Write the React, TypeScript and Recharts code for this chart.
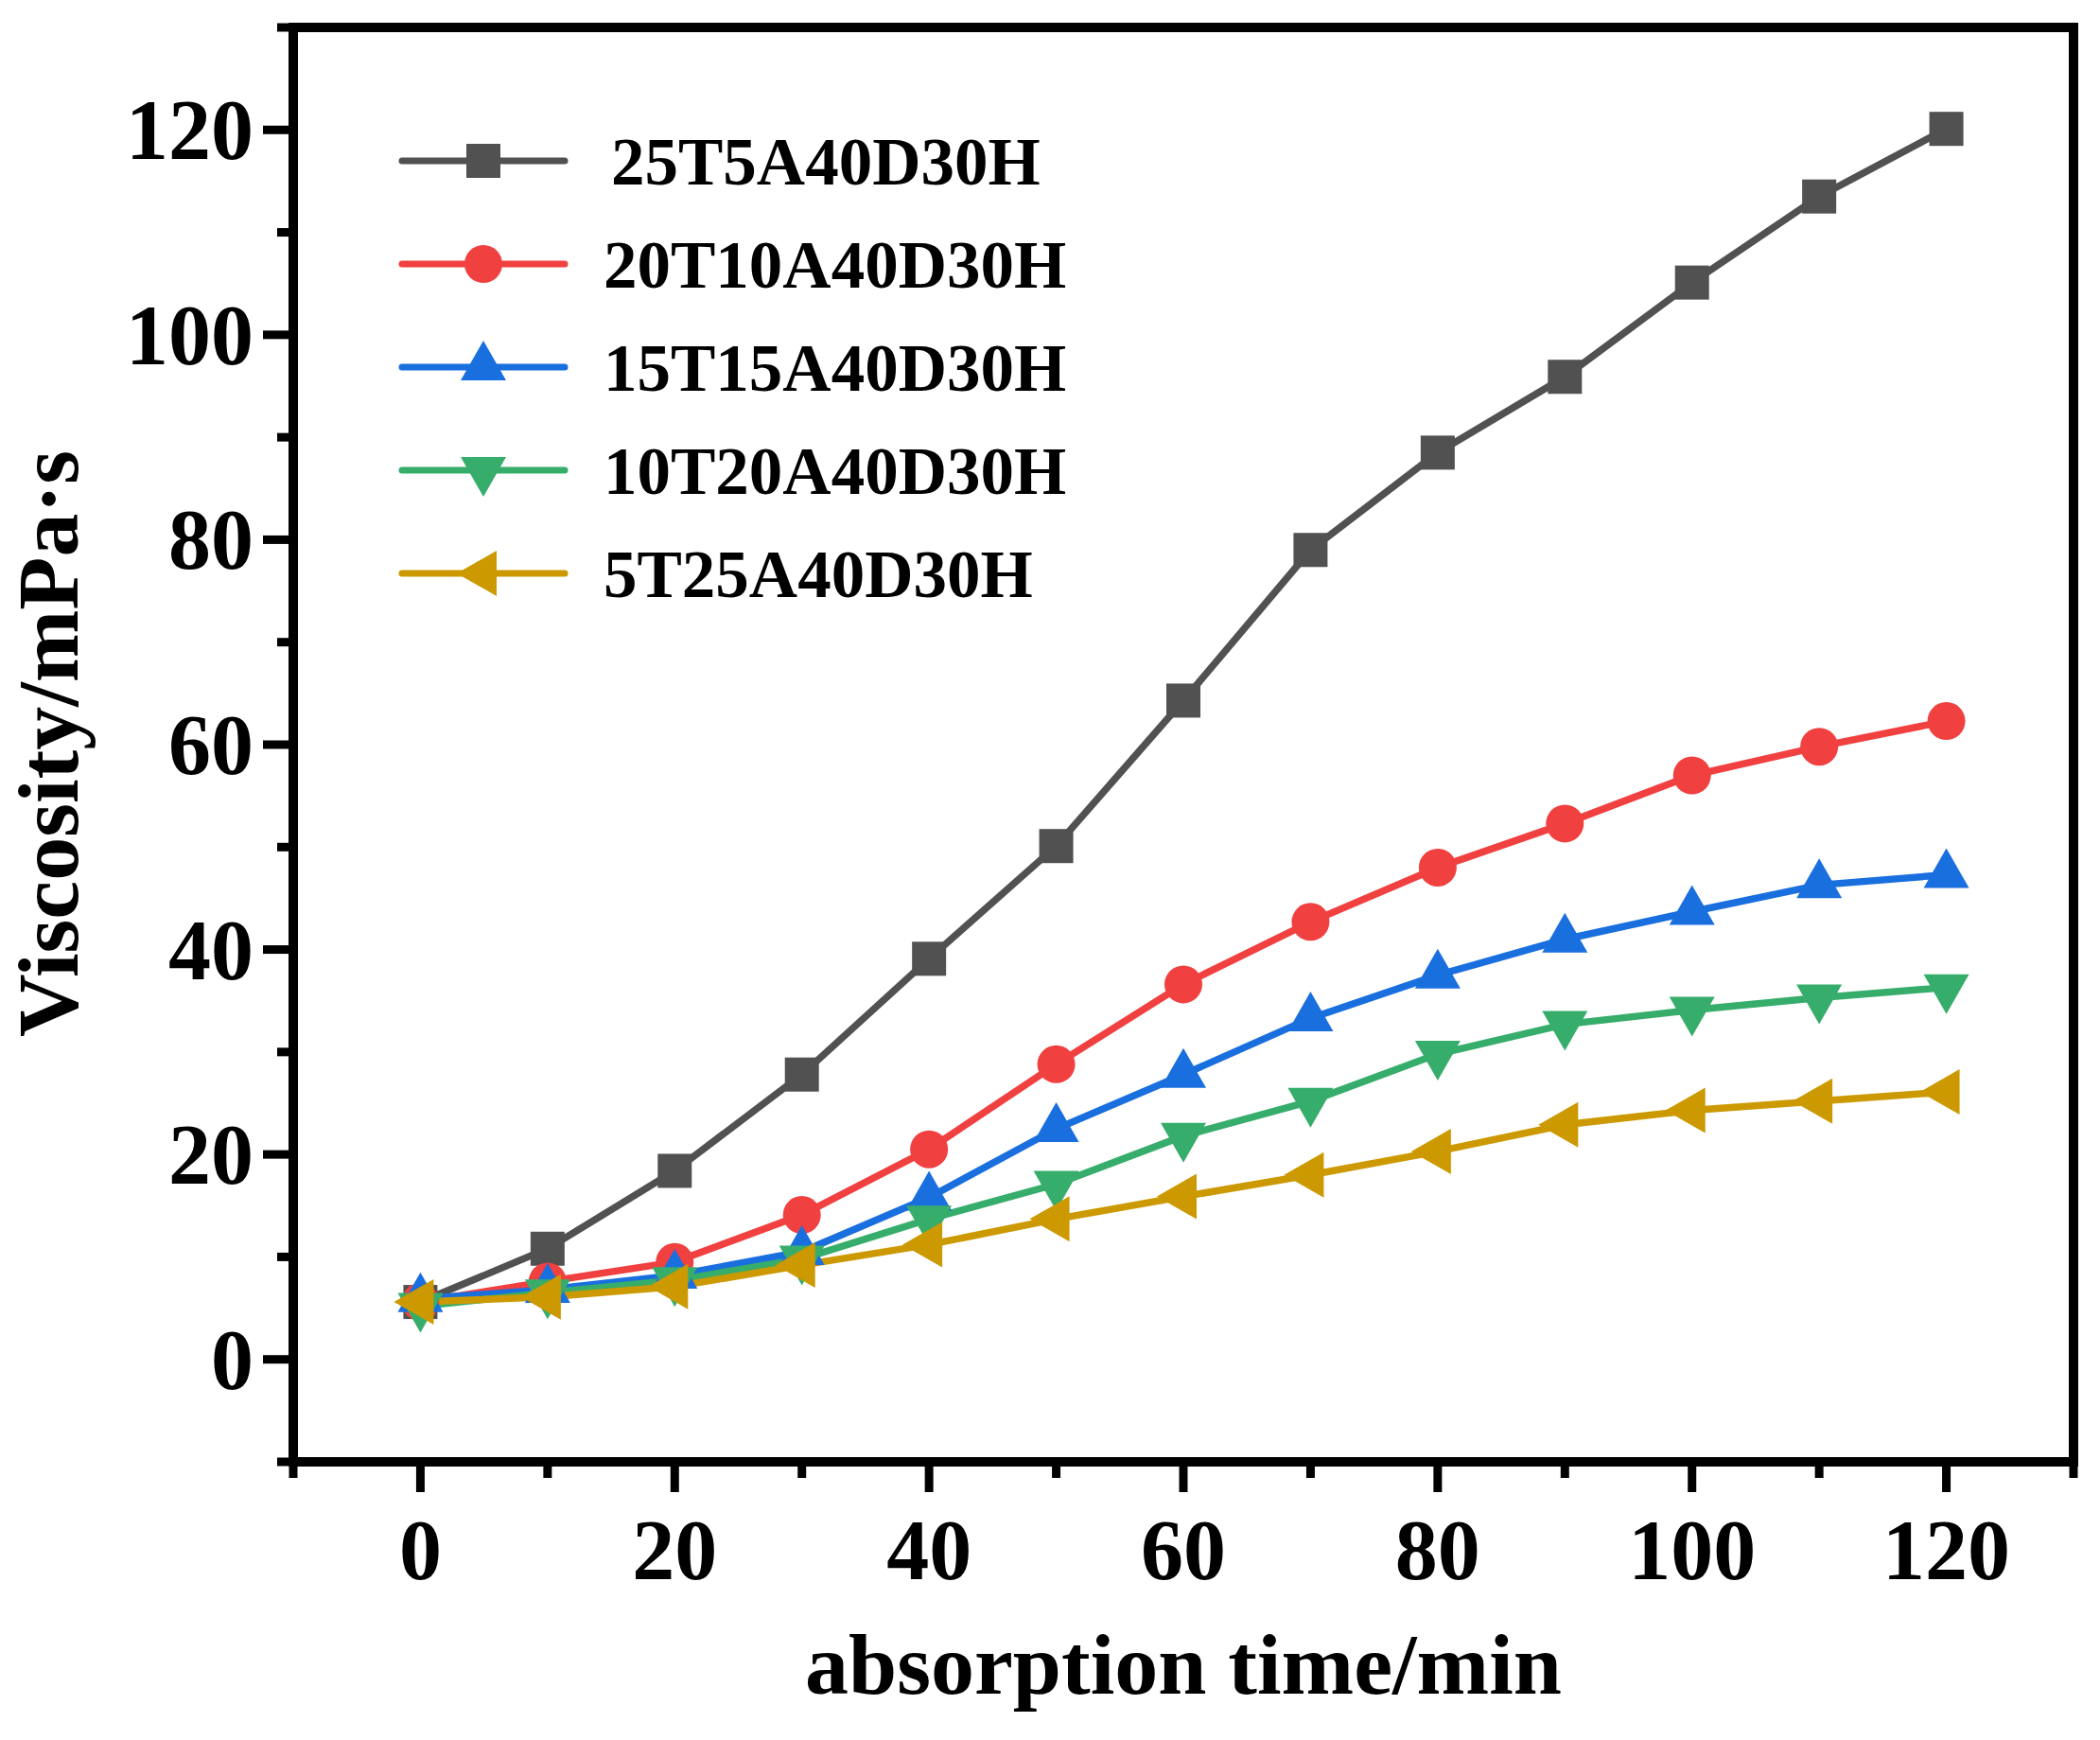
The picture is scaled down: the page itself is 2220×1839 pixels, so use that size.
import React from 'react'
import {
  LineChart,
  Line,
  XAxis,
  YAxis,
  ReferenceArea,
} from 'recharts'

// absorption time (min)
const times = [0, 10, 20, 30, 40, 50, 60, 70, 80, 90, 100, 110, 120]

// viscosity (mPa·s) for each blend
const visc25T5A = [5.6, 10.8, 18.4, 27.8, 39.1, 50.1, 64.3, 79.0, 88.5, 95.9, 105.1, 113.5, 120.1]
const visc20T10A = [5.6, 7.6, 9.5, 14.1, 20.5, 28.8, 36.6, 42.7, 48.0, 52.3, 57.0, 59.8, 62.3]
const visc15T15A = [5.9, 6.8, 8.2, 10.5, 15.8, 22.5, 27.8, 33.3, 37.5, 41.0, 43.7, 46.3, 47.3]
const visc10T20A = [5.2, 6.5, 7.7, 9.8, 13.7, 17.1, 21.8, 25.2, 29.8, 32.7, 34.1, 35.3, 36.3]
const visc5T25A = [5.6, 6.1, 7.1, 9.2, 11.2, 13.7, 15.9, 18.0, 20.3, 22.9, 24.3, 25.2, 26.1]

const seriesNames = ['25T5A40D30H', '20T10A40D30H', '15T15A40D30H', '10T20A40D30H', '5T25A40D30H']
const seriesValues = [visc25T5A, visc20T10A, visc15T15A, visc10T20A, visc5T25A]

const xTicks = [-10, 0, 10, 20, 30, 40, 50, 60, 70, 80, 90, 100, 110, 120, 130]
const yTicks = [-10, 0, 10, 20, 30, 40, 50, 60, 70, 80, 90, 100, 110, 120, 130]

const FONT = '"Liberation Serif", "Times New Roman", serif'
const COLORS = ['#515151', '#F14040', '#1A6FDF', '#37AD6B', '#CC9900']
const SHAPES = ['square', 'circle', 'up', 'down', 'left'] as const
type Shape = (typeof SHAPES)[number]

const data = times.map((t, i) => {
  const row: Record<string, number> = { t }
  seriesNames.forEach((name, s) => {
    row[name] = seriesValues[s][i]
  })
  return row
})

function Marker({ shape, cx, cy, color }: { shape: Shape; cx: number; cy: number; color: string }) {
  switch (shape) {
    case 'square':
      return <rect x={cx - 18} y={cy - 18} width={36} height={36} fill={color} />
    case 'circle':
      return <circle cx={cx} cy={cy} r={20} fill={color} />
    case 'up':
      return <polygon points={`${cx},${cy - 28} ${cx - 24},${cy + 14} ${cx + 24},${cy + 14}`} fill={color} />
    case 'down':
      return <polygon points={`${cx},${cy + 28} ${cx - 24},${cy - 14} ${cx + 24},${cy - 14}`} fill={color} />
    case 'left':
      return <polygon points={`${cx - 28},${cy} ${cx + 14},${cy - 24} ${cx + 14},${cy + 24}`} fill={color} />
  }
}

const isMajor = (v: number) => v % 20 === 0 && v >= 0 && v <= 120

function XTick(props: any) {
  const { x, y, payload } = props
  const major = isMajor(payload.value)
  return (
    <g>
      <line x1={x} y1={y} x2={x} y2={y + (major ? 32 : 17)} stroke="#000" strokeWidth={9} />
      {major && (
        <text x={x} y={y + 124} textAnchor="middle" fontFamily={FONT} fontWeight="bold" fontSize={90} fill="#000">
          {payload.value}
        </text>
      )}
    </g>
  )
}

function YTick(props: any) {
  const { x, y, payload } = props
  const major = isMajor(payload.value)
  return (
    <g>
      <line x1={x} y1={y} x2={x - (major ? 32 : 17)} y2={y} stroke="#000" strokeWidth={9} />
      {major && (
        <text x={x - 42} y={y + 31} textAnchor="end" fontFamily={FONT} fontWeight="bold" fontSize={90} fill="#000">
          {payload.value}
        </text>
      )}
    </g>
  )
}

function LegendBox() {
  return (
    <svg width={900} height={560} style={{ position: 'absolute', left: 0, top: 0, overflow: 'visible' }}>
      {seriesNames.map((name, i) => {
        const cy = 170 + i * 109
        return (
          <g key={name}>
            <line x1={425} y1={cy} x2={597} y2={cy} stroke={COLORS[i]} strokeWidth={7} strokeLinecap="round" />
            <Marker shape={SHAPES[i]} cx={511} cy={cy} color={COLORS[i]} />
            <text x={i === 0 ? 646 : 638} y={cy + 25} fontFamily={FONT} fontWeight="bold" fontSize={71} fill="#000">
              {name}
            </text>
          </g>
        )
      })}
    </svg>
  )
}

export default function App() {
  return (
    <div style={{ position: 'absolute', left: 0, top: 0, width: 2220, height: 1839, background: '#fff' }}>
      <LineChart
        width={2220}
        height={1839}
        data={data}
        margin={{ top: 29, right: 28, bottom: 94, left: 110 }}
      >
        <XAxis
          dataKey="t"
          type="number"
          domain={[-10, 130]}
          ticks={xTicks}
          interval={0}
          height={200}
          axisLine={false}
          tickLine={false}
          tickSize={0}
          tickMargin={0}
          tick={<XTick />}
        />
        <YAxis
          type="number"
          domain={[-10, 130]}
          ticks={yTicks}
          interval={0}
          width={200}
          axisLine={false}
          tickLine={false}
          tickSize={0}
          tickMargin={0}
          tick={<YTick />}
        />
        <ReferenceArea
          x1={-10}
          x2={130}
          y1={-10}
          y2={130}
          fill="none"
          fillOpacity={0}
          stroke="#000"
          strokeWidth={10}
          ifOverflow="visible"
        />
        {seriesNames.map((name, i) => (
          <Line
            key={name}
            dataKey={name}
            type="linear"
            stroke={COLORS[i]}
            strokeWidth={7.5}
            isAnimationActive={false}
            dot={(p: any) => (
              <Marker key={`${name}-${p.index}`} shape={SHAPES[i]} cx={p.cx} cy={p.cy} color={COLORS[i]} />
            )}
            activeDot={false}
          />
        ))}
      </LineChart>
      <svg width={2220} height={1839} style={{ position: 'absolute', left: 0, top: 0, pointerEvents: 'none' }}>
        <text
          x={82}
          y={786}
          transform="rotate(-90, 82, 786)"
          textAnchor="middle"
          fontFamily={FONT}
          fontWeight="bold"
          fontSize={92}
          fill="#000"
        >
          Viscosity/mPa·s
        </text>
        <text x={1251} y={1790} textAnchor="middle" fontFamily={FONT} fontWeight="bold" fontSize={92} fill="#000">
          absorption time/min
        </text>
      </svg>
      <LegendBox />
    </div>
  )
}
